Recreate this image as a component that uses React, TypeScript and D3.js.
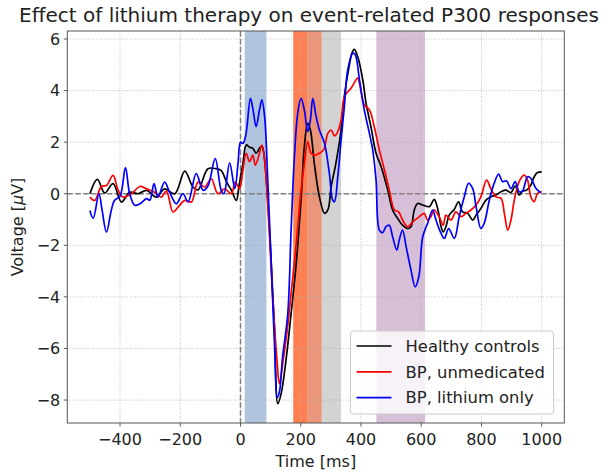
import React from 'react';
import * as d3 from 'd3';

// [time ms, voltage µV]
const controls: [number, number][] = [
  [-500, 0], [-475, 0.56], [-451, 0.03], [-423, 0.39], [-395, -0.32], [-368, 0.06], [-340, 0],
  [-312, 0.13], [-279, -0.13], [-252, 0.19], [-218, 0], [-185, 0.88], [-158, 0.26], [-141, 0.15],
  [-108, 0.97], [-80, 0.97], [-64, 0.9], [-46, 0.45], [-30, 0.13], [-14, -0.26], [-5, 0.3],
  [8, 1.18], [19, 1.89], [30, 1.8], [41, 1.76], [52, 1.57], [63, 1.76], [71, 1.85], [77, 1.6],
  [91, -0.38], [113, -5.3], [124, -8.14], [135, -7.75], [151, -6.46], [168, -4.65], [185, -2.7],
  [201, -0.25], [212, 1.83], [223, 2.73], [232, 2.47], [245, 1.18], [262, -0.12], [279, -0.76],
  [290, -0.63], [301, 0.27], [317, 1.2], [332, 2.3], [345, 3.8], [360, 4.9], [370, 5.45],
  [378, 5.6], [389, 5.32], [406, 4.41], [417, 3.5], [433, 2.6], [450, 1.57], [467, 1.05],
  [489, 0.14], [505, -0.63], [522, -0.96], [538, -1.22], [555, -1.35], [566, -1.28], [577, -0.63],
  [588, -0.38], [605, -0.44], [627, -0.5], [643, -0.22], [655, -0.6], [666, -1.28], [673, -1.48],
  [682, -1.28], [693, -0.83], [710, -0.6], [724, -0.31], [737, -0.7], [754, -0.76], [771, -1.02],
  [782, -0.83], [798, -0.57], [815, -0.25], [831, -0.12], [848, -0.05], [865, 0.08], [881, 0.14],
  [898, 0.05], [912, 0.3], [925, -0.05], [936, 0.1], [950, 0.14], [964, 0.34], [975, 0.66],
  [986, 0.82], [1000, 0.85],
];

const unmedicated: [number, number][] = [
  [-500, -0.13], [-484, -0.26], [-462, 0.28], [-445, 0.32], [-423, 0.71], [-406, 0.13], [-390, -0.13],
  [-362, 0], [-334, 0.28], [-312, 0.19], [-285, 0.06], [-263, -0.13], [-246, 0.1], [-224, -0.71],
  [-207, -0.52], [-185, -0.26], [-163, -0.32], [-141, 0.45], [-119, 0.26], [-97, 0.58], [-75, 0],
  [-53, 0.19], [-30, 0], [-18, 0.45], [-3, 0.2], [8, 0.9], [19, 1.57], [30, 1.24], [41, 1.5],
  [49, 1.11], [60, 1.44], [71, 1.89], [80, 1.3], [91, -0.5], [107, -4.0], [122, -6.6], [129, -7.37],
  [140, -6.6], [155, -5.3], [168, -3.87], [185, -1.93], [201, 0.14], [212, 1.18], [223, 2.02],
  [234, 1.57], [245, 1.5], [262, 1.57], [276, 1.7], [290, 2.34], [301, 2.47], [312, 2.24],
  [323, 2.41], [334, 2.86], [345, 3.77], [367, 4.09], [389, 4.48], [395, 4.28], [411, 3.44],
  [428, 3.25], [444, 2.6], [461, 1.7], [478, 0.92], [494, 0.14], [511, -0.63], [525, -0.7],
  [538, -1.02], [555, -1.28], [572, -1.09], [594, -0.89], [610, -0.76], [621, -1.02], [632, -0.89],
  [643, -0.63], [660, -0.9], [673, -1.22], [682, -0.83], [699, -1.02], [715, -0.7], [732, -0.89],
  [748, -0.76], [765, -0.63], [782, -0.44], [798, -0.12], [817, 0.53], [831, 0.2], [848, -0.12],
  [865, -0.18], [876, -0.76], [887, -1.41], [898, -1.02], [909, -0.25], [925, 0.47], [942, 0.72],
  [953, 0.53], [964, -0.12], [975, -0.31], [986, 0.01], [1000, 0.08],
];

const lithium: [number, number][] = [
  [-500, -0.65], [-489, -0.95], [-470, 0.0], [-460, -0.6], [-445, -1.49], [-430, -0.7], [-418, -0.25],
  [-400, -0.1], [-382, 1.01], [-368, 0], [-351, -0.45], [-334, -0.39], [-312, -0.19], [-301, -0.25],
  [-287, 0.39], [-274, -0.13], [-252, 0.45], [-235, 0.05], [-213, -0.39], [-191, 0], [-174, -0.32],
  [-147, 0.78], [-124, 0.13], [-108, 0.3], [-84, 1.36], [-64, 0.13], [-55, 0.0], [-36, 1.2],
  [-19, 0.2], [-8, 1.2], [0, 2.0], [8, 1.95], [18, 2.3], [33, 3.7], [41, 3.3], [52, 2.6], [63, 3.25],
  [71, 3.64], [80, 3.0], [91, 0.4], [102, -2.7], [113, -5.9], [122, -7.9], [129, -7.7], [140, -6.3],
  [157, -4.65], [168, -1.41], [179, 1.44], [190, 3.12], [201, 3.7], [212, 3.25], [223, 2.41],
  [232, 2.86], [240, 3.7], [251, 3.0], [262, 2.47], [279, 1.95], [295, 0.79], [306, -0.25],
  [312, -0.31], [323, 0.66], [334, 2.08], [345, 3.4], [356, 4.8], [373, 5.45], [381, 5.39],
  [395, 4.41], [411, 3.25], [428, 2.34], [439, 1.7], [450, 0.53], [461, -1.41], [472, -1.51],
  [483, -1.28], [494, -1.22], [505, -1.67], [519, -2.19], [527, -1.8], [538, -1.41], [550, -2.06],
  [566, -2.96], [580, -3.61], [592, -3.22], [605, -1.67], [621, -1.15], [638, -0.63], [649, -1.02],
  [666, -1.54], [677, -1.73], [691, -1.35], [710, -1.73], [726, -0.89], [743, -0.12], [757, 0.4],
  [771, 0.2], [782, -0.5], [798, -1.35], [809, -1.15], [826, -0.25], [842, 0.4], [857, 0.76],
  [870, 0.47], [883, 0.5], [898, 0.2], [912, 0.47], [925, 0.08], [936, 0.1], [953, 0.66],
  [964, 0.6], [981, 0.2], [997, 0.04],
];

// shaded time windows [start, end] in ms
const windows: [number, number][] = [[14, 86], [175, 221], [221, 270], [270, 334], [451, 613]];

const xTicks = [-400, -200, 0, 200, 400, 600, 800, 1000];
const yTicks = [-8, -6, -4, -2, 0, 2, 4, 6];
const seriesNames = ['Healthy controls', 'BP, unmedicated', 'BP, lithium only'];

const W = 616;
const H = 473;
const box = { left: 67.3, right: 564.3, top: 31, bottom: 423 };
const windowColors = ['#b0c4de', '#ff7f50', '#e9967a', '#d3d3d3', '#d8bfd8'];
const lineColors = ['#000000', '#ff0000', '#0000ff'];
const font = 'DejaVu Sans, sans-serif';
const fmt = (n: number) => (n < 0 ? '\u2212' + Math.abs(n) : String(n));

export default function App() {
  const x = d3.scaleLinear().domain([-575, 1075]).range([box.left, box.right]);
  const y = d3.scaleLinear().domain([-8.89, 6.31]).range([box.bottom, box.top]);

  const line = d3
    .line<[number, number]>()
    .x(d => x(d[0]))
    .y(d => y(d[1]))
    .curve(d3.curveCatmullRom.alpha(0.5));

  const series = [controls, unmedicated, lithium];
  const legendX = 350.5;
  const legendY = 331;

  return (
    <svg
      width={W}
      height={H}
      style={{ position: 'fixed', left: 0, top: 0, background: '#fff' }}
      fontFamily={font}
    >
      <defs>
        <clipPath id="plotClip">
          <rect x={box.left} y={box.top} width={box.right - box.left} height={box.bottom - box.top} />
        </clipPath>
      </defs>

      {/* shaded windows */}
      {windows.map((w, i) => (
        <rect
          key={'w' + i}
          x={x(w[0])}
          y={box.top}
          width={x(w[1]) - x(w[0])}
          height={box.bottom - box.top}
          fill={windowColors[i]}
        />
      ))}

      {/* grid */}
      {xTicks.map(t => (
        <line key={'gx' + t} x1={x(t)} x2={x(t)} y1={box.top} y2={box.bottom}
          stroke="#b0b0b0" strokeWidth={0.8} strokeDasharray="1,1.6" />
      ))}
      {yTicks.map(t => (
        <line key={'gy' + t} x1={box.left} x2={box.right} y1={y(t)} y2={y(t)}
          stroke="#b0b0b0" strokeWidth={0.8} strokeDasharray="1,1.6" />
      ))}

      {/* zero reference lines */}
      <line x1={box.left} x2={box.right} y1={y(0)} y2={y(0)} stroke="#808080" strokeWidth={1.5} strokeDasharray="5.5,2.4" />
      <line x1={x(0)} x2={x(0)} y1={box.top} y2={box.bottom} stroke="#808080" strokeWidth={1.5} strokeDasharray="5.5,2.4" />

      {/* curves */}
      <g clipPath="url(#plotClip)">
        {series.map((s, i) => (
          <path key={'s' + i} d={line(s) || ''} fill="none" stroke={lineColors[i]} strokeWidth={1.7} strokeLinejoin="round" />
        ))}
      </g>

      {/* spines */}
      <rect x={box.left} y={box.top} width={box.right - box.left} height={box.bottom - box.top}
        fill="none" stroke="#555" strokeWidth={1} />

      {/* x axis */}
      {xTicks.map(t => (
        <g key={'xt' + t}>
          <line x1={x(t)} x2={x(t)} y1={box.bottom} y2={box.bottom + 3.5} stroke="#555" />
          <text x={x(t)} y={box.bottom + 22} textAnchor="middle" fontSize={16} fill="#222">{fmt(t)}</text>
        </g>
      ))}
      <text x={(box.left + box.right) / 2} y={467} textAnchor="middle" fontSize={16} fill="#222">Time [ms]</text>

      {/* y axis */}
      {yTicks.map(t => (
        <g key={'yt' + t}>
          <line x1={box.left - 3.5} x2={box.left} y1={y(t)} y2={y(t)} stroke="#555" />
          <text x={box.left - 7} y={y(t) + 5.8} textAnchor="end" fontSize={16} fill="#222">{fmt(t)}</text>
        </g>
      ))}
      <text transform={`translate(23,${(box.top + box.bottom) / 2}) rotate(-90)`} textAnchor="middle" fontSize={16} fill="#222">
        Voltage [<tspan fontStyle="italic">μ</tspan>V]
      </text>

      {/* title */}
      <text x={309} y={22} textAnchor="middle" fontSize={20} fill="#222">
        Effect of lithium therapy on event-related P300 responses
      </text>

      {/* legend */}
      <rect x={legendX} y={legendY} width={203} height={83} rx={3} fill="#fff" fillOpacity={0.8} stroke="#ccc" />
      {seriesNames.map((name, i) => (
        <g key={'l' + i}>
          <line x1={legendX + 6} x2={legendX + 41} y1={legendY + 15 + i * 25.8} y2={legendY + 15 + i * 25.8}
            stroke={lineColors[i]} strokeWidth={1.7} />
          <text x={legendX + 55} y={legendY + 20.8 + i * 25.8} fontSize={16.4} fill="#222">{name}</text>
        </g>
      ))}
    </svg>
  );
}
